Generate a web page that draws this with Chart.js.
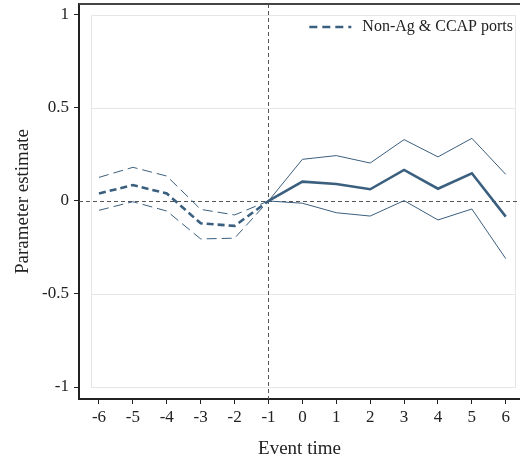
<!DOCTYPE html>
<html><head><meta charset="utf-8">
<script src="https://cdn.jsdelivr.net/npm/chart.js@4/dist/chart.umd.min.js"></script>
<style>html,body{margin:0;padding:0;background:#fff;} #wrap{width:520px;height:463px;}</style>
</head><body><div id="wrap"><canvas id="c" width="520" height="463"></canvas></div>
<script>
const eventTime = [-6,-5,-4,-3,-2,-1,0,1,2,3,4,5,6];
const estimate  = [0.040,0.086,0.040,-0.120,-0.134,0,0.104,0.091,0.063,0.167,0.066,0.149,-0.084];
const upperCI   = [0.127,0.181,0.134,-0.045,-0.075,0,0.224,0.244,0.204,0.330,0.237,0.337,0.143];
const lowerCI   = [-0.050,-0.004,-0.054,-0.204,-0.200,0,-0.012,-0.063,-0.081,0.002,-0.102,-0.043,-0.310];
const yTicks = [-1,-0.5,0,0.5,1];
const seriesLabel = 'Non-Ag & CCAP ports';
const refTime = -1;

const COLOR = '#3b5f7e';
const FONT = '"Liberation Serif", "Times New Roman", serif';
const pts = arr => eventTime.map((t,i)=>({x:t, y:arr[i]}));
const preDash = d => ctx => (ctx.p0.parsed.x < refTime ? d : []);

const framePlugin = {
  id:'frame',
  beforeDatasetsDraw(chart){
    const {ctx, chartArea:a, scales:{x,y}} = chart;
    const line=(x1,y1,x2,y2)=>{ctx.beginPath();ctx.moveTo(x1,y1);ctx.lineTo(x2,y2);ctx.stroke();};
    ctx.save();
    const l = Math.round(x.getPixelForValue(eventTime[0]-0.24))+0.5;
    const r = Math.round(x.getPixelForValue(eventTime[eventTime.length-1]+0.27))+0.5;
    const t = Math.round(y.getPixelForValue(yTicks[yTicks.length-1]))+0.5;
    const b = Math.round(y.getPixelForValue(yTicks[0]))+0.5;
    ctx.strokeStyle='#e6e6e6'; ctx.lineWidth=1;
    yTicks.forEach(v=>{ if(v!==0){ const py=Math.round(y.getPixelForValue(v))+0.5; line(l,py,r,py);} });
    line(l,t,l,b); line(r,t,r,b);
    ctx.strokeStyle='#555'; ctx.lineWidth=1; ctx.setLineDash([4,3]);
    const y0 = Math.round(y.getPixelForValue(0))+0.5;
    line(a.left,y0,a.right,y0);
    const xr = Math.round(x.getPixelForValue(refTime))+0.5;
    line(xr,a.top,xr,a.bottom);
    ctx.setLineDash([]);
    ctx.strokeStyle='#444'; ctx.lineWidth=2;
    line(a.left,a.top,a.right,a.top);
    ctx.restore();
  },
  afterDatasetsDraw(chart){
    const {ctx, chartArea:a} = chart;
    const ds = chart.data.datasets[0];
    ctx.save();
    ctx.font = '16px ' + FONT;
    ctx.fillStyle = '#222';
    ctx.textAlign = 'right'; ctx.textBaseline = 'middle';
    const tx = a.right - 7, ty = a.top + 23;
    ctx.fillText(ds.label, tx, ty);
    const w = ctx.measureText(ds.label).width;
    const x2 = tx - w - 11, x1 = x2 - 42;
    ctx.strokeStyle = ds.borderColor; ctx.lineWidth = ds.borderWidth; ctx.setLineDash([8,5]);
    ctx.beginPath(); ctx.moveTo(x1, ty); ctx.lineTo(x2, ty); ctx.stroke();
    ctx.restore();
  }
};

new Chart(document.getElementById('c'), {
  type:'line',
  data:{ datasets:[
    {label:seriesLabel, data:pts(estimate), borderColor:COLOR, backgroundColor:COLOR, borderWidth:2.6, pointRadius:0, tension:0,
     segment:{borderDash:preDash([7,4])}},
    {label:'upper', data:pts(upperCI), borderColor:COLOR, borderWidth:1, pointRadius:0, tension:0,
     segment:{borderDash:preDash([10,5])}},
    {label:'lower', data:pts(lowerCI), borderColor:COLOR, borderWidth:1, pointRadius:0, tension:0,
     segment:{borderDash:preDash([10,5])}}
  ]},
  options:{
    responsive:false, animation:false, devicePixelRatio:1,
    layout:{padding:{top:4,left:0,right:0,bottom:0}},
    plugins:{ tooltip:{enabled:false}, legend:{display:false} },
    scales:{
      x:{type:'linear', min:-6.59, max:6.42,
        afterBuildTicks:s=>{s.ticks=eventTime.map(v=>({value:v}));},
        afterFit:s=>{s.height=64; s.paddingLeft=0; s.paddingRight=0;},
        ticks:{font:{family:FONT,size:17}, color:'#222', padding:3, maxRotation:0, autoSkip:false, callback:v=>String(v)},
        grid:{drawOnChartArea:false, drawTicks:true, tickLength:5, tickColor:'#222', tickWidth:1},
        border:{display:true, color:'#222', width:2},
        title:{display:true, text:'Event time', font:{family:FONT,size:19}, color:'#222', padding:{top:0,bottom:3}}
      },
      y:{type:'linear', min:-1.0645, max:1.059,
        afterBuildTicks:s=>{s.ticks=yTicks.map(v=>({value:v}));},
        afterFit:s=>{s.width=79; s.paddingTop=0; s.paddingBottom=0;},
        ticks:{font:{family:FONT,size:17}, color:'#222', padding:5, callback:v=>String(v)},
        grid:{drawOnChartArea:false, drawTicks:true, tickLength:5, tickColor:'#222', tickWidth:1},
        border:{display:true, color:'#222', width:2},
        title:{display:true, text:'Parameter estimate', font:{family:FONT,size:19}, color:'#222', padding:{top:12,bottom:0}}
      }
    }
  },
  plugins:[framePlugin]
});
</script></body></html>
